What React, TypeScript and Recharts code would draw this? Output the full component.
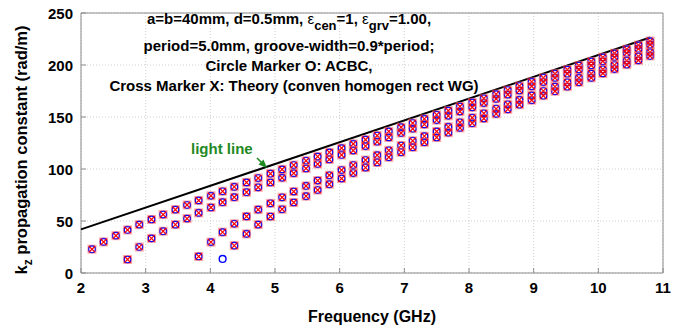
import React from "react";
import { ScatterChart, Scatter, XAxis, YAxis, CartesianGrid, ReferenceLine } from "recharts";

// frequency sweep (GHz), one column of markers per entry
const freqGHz = [
  2.17, 2.35, 2.54, 2.72, 2.9, 3.09, 3.27, 3.46, 3.64, 3.82, 4.01, 4.19,
  4.37, 4.56, 4.74, 4.93, 5.11, 5.29, 5.48, 5.66, 5.84, 6.03, 6.21, 6.4,
  6.58, 6.76, 6.95, 7.13, 7.31, 7.5, 7.68, 7.86, 8.05, 8.23, 8.42, 8.6,
  8.78, 8.97, 9.15, 9.33, 9.52, 9.7, 9.89, 10.07, 10.25, 10.44, 10.62, 10.8,
];

// kz (rad/m) for each guided mode, null below cutoff
const kzMode1 = [
  22.9, 29.9, 35.9, 41.4, 46.5, 51.5, 56.2, 60.9, 65.4, 69.8, 74.2, 78.6,
  82.8, 87.1, 91.3, 95.5, 99.6, 103.8, 107.9, 111.9, 116.0, 120.1, 124.1, 128.2,
  132.2, 136.2, 140.2, 144.2, 148.2, 152.1, 156.1, 160.1, 164.0, 168.0, 172.0, 175.9,
  179.8, 183.8, 187.7, 191.6, 195.6, 199.5, 203.4, 207.4, 211.3, 215.2, 219.1, 223.0,
];
const kzMode2 = [
  null, null, null, 13.0, 25.0, 33.3, 40.2, 46.5, 52.3, 57.8, 63.0, 68.1,
  72.9, 77.7, 82.4, 87.0, 91.5, 96.0, 100.5, 104.8, 109.2, 113.5, 117.7, 122.0,
  126.2, 130.4, 134.6, 138.7, 142.9, 147.0, 151.1, 155.2, 159.3, 163.4, 167.4, 171.5,
  175.5, 179.5, 183.6, 187.6, 191.6, 195.6, 199.6, 203.6, 207.6, 211.6, 215.5, 219.5,
];
const kzMode3 = [
  null, null, null, null, null, null, null, null, null, 15.9, 29.7, 39.3,
  47.3, 54.4, 60.9, 67.0, 72.8, 78.3, 83.7, 88.9, 94.0, 99.0, 103.8, 108.6,
  113.3, 118.0, 122.6, 127.1, 131.6, 136.1, 140.5, 144.9, 149.3, 153.6, 157.9, 162.2,
  166.5, 170.7, 175.0, 179.2, 183.4, 187.6, 191.7, 195.9, 200.0, 204.2, 208.3, 212.4,
];
const kzMode4 = [
  null, null, null, null, null, null, null, null, null, null, null, null,
  26.3, 37.6, 46.5, 54.3, 61.3, 67.8, 73.9, 79.8, 85.4, 90.8, 96.1, 101.3,
  106.3, 111.3, 116.1, 120.9, 125.7, 130.3, 134.9, 139.5, 144.0, 148.5, 153.0, 157.4,
  161.8, 166.2, 170.5, 174.8, 179.1, 183.4, 187.6, 191.9, 196.1, 200.3, 204.5, 208.7,
];

// ACBC point with no theory counterpart (just above mode 4 cutoff)
const acbcExtraFreq = [4.19];
const acbcExtraKz = [13.5];

const lightLineFreq = [2, 10.8];
const lightLineKz = [41.9, 226.4];

const xTicks = [2, 3, 4, 5, 6, 7, 8, 9, 10, 11];
const yTicks = [0, 50, 100, 150, 200, 250];

const FONT = "'Liberation Sans', Arial, sans-serif";
const FRAME = "#8c8c8c";
const GRID = "#cfcfcf";
const GREEN = "#1f8a1f";

type Pt = { f: number; kz: number };

const toPoints = (kz: (number | null)[]): Pt[] =>
  freqGHz
    .map((f, i) => ({ f, kz: kz[i] }))
    .filter((p): p is Pt => p.kz != null);

const theoryPoints = [kzMode1, kzMode2, kzMode3, kzMode4].flatMap(toPoints);
const acbcPoints = [
  ...theoryPoints,
  ...acbcExtraFreq.map((f, i) => ({ f, kz: acbcExtraKz[i] })),
];
const lightLine = lightLineFreq.map((f, i) => ({ f, kz: lightLineKz[i] }));

const CircleMarker = (props: any) => (
  <circle cx={props.cx} cy={props.cy} r={3.4} fill="none" stroke="#0000ff" strokeWidth={1.4} />
);

const CrossMarker = (props: any) => {
  const { cx, cy } = props;
  const s = 3.2;
  return (
    <g>
      <rect x={cx - 4} y={cy - 4} width={8} height={8} fill="none" stroke="#ff6a6a" strokeOpacity={0.6} strokeWidth={1} />
      <path
        d={`M${cx - s},${cy - s}L${cx + s},${cy + s}M${cx - s},${cy + s}L${cx + s},${cy - s}`}
        stroke="#ff0000"
        strokeWidth={1.2}
      />
    </g>
  );
};

const NoMarker = () => <g />;

const XTick = ({ x, y, payload }: any) => (
  <g>
    <line x1={x} x2={x} y1={y} y2={y - 5} stroke={FRAME} />
    <text x={x} y={y + 20} textAnchor="middle" fontFamily={FONT} fontWeight="bold" fontSize={15} fill="#000">
      {payload.value}
    </text>
  </g>
);

const YTick = ({ x, y, payload }: any) => (
  <g>
    <line x1={x} x2={x + 5} y1={y} y2={y} stroke={FRAME} />
    <text x={x - 8} y={y + 6} textAnchor="end" fontFamily={FONT} fontWeight="bold" fontSize={15} fill="#000">
      {payload.value}
    </text>
  </g>
);

function Annotations() {
  const txt = { fontFamily: FONT, fontWeight: "bold" as const, fontSize: 15, fill: "#000" };
  return (
    <svg width={689} height={329} style={{ position: "absolute", left: 0, top: 0, pointerEvents: "none" }}>
      <text x={289} y={24} textAnchor="middle" {...txt}>
        a=b=40mm, d=0.5mm, <tspan fontWeight="normal">ε</tspan>
        <tspan fontSize={13} dy={6}>cen</tspan>
        <tspan dy={-6}>=1, </tspan>
        <tspan fontWeight="normal">ε</tspan>
        <tspan fontSize={13} dy={6}>grv</tspan>
        <tspan dy={-6}>=1.00,</tspan>
      </text>
      <text x={289} y={51} textAnchor="middle" {...txt}>
        period=5.0mm, groove-width=0.9*period;
      </text>
      <text x={289} y={71} textAnchor="middle" {...txt}>
        Circle Marker O: ACBC,
      </text>
      <text x={294} y={91} textAnchor="middle" {...txt}>
        Cross Marker X: Theory (conven homogen rect WG)
      </text>

      <text x={191} y={154} {...txt} fill={GREEN}>
        light line
      </text>
      <line x1={257} y1={158} x2={263} y2={164} stroke={GREEN} strokeWidth={1.6} />
      <polygon points="267,168 258.5,164.5 263.5,159.5" fill={GREEN} />

      <text
        transform="translate(27,150) rotate(-90)"
        textAnchor="middle"
        fontFamily={FONT}
        fontWeight="bold"
        fontSize={16.5}
        fill="#000"
      >
        k<tspan fontSize={12} dy={5}>z</tspan>
        <tspan dy={-5}> propagation constant (rad/m)</tspan>
      </text>
      <text x={372} y={322} textAnchor="middle" {...txt} fontSize={16}>
        Frequency (GHz)
      </text>
    </svg>
  );
}

export default function App() {
  return (
    <div style={{ position: "absolute", left: 0, top: 0, width: 689, height: 329, background: "#fff" }}>
      <ScatterChart width={689} height={329} margin={{ top: 13, right: 26, bottom: 26, left: 41 }}>
        <CartesianGrid stroke={GRID} strokeDasharray="1 2" />
        <XAxis
          dataKey="f"
          type="number"
          domain={[2, 11]}
          ticks={xTicks}
          height={30}
          tickSize={0}
          tickMargin={0}
          tick={<XTick />}
          axisLine={{ stroke: FRAME }}
          tickLine={false}
        />
        <YAxis
          dataKey="kz"
          type="number"
          domain={[0, 250]}
          ticks={yTicks}
          width={40}
          tickSize={0}
          tickMargin={0}
          tick={<YTick />}
          axisLine={{ stroke: FRAME }}
          tickLine={false}
        />
        <ReferenceLine y={250} stroke={FRAME} />
        <ReferenceLine x={11} stroke={FRAME} />
        <Scatter
          data={lightLine}
          line={{ stroke: "#000", strokeWidth: 2 }}
          shape={NoMarker}
          isAnimationActive={false}
        />
        <Scatter data={acbcPoints} shape={CircleMarker} isAnimationActive={false} />
        <Scatter data={theoryPoints} shape={CrossMarker} isAnimationActive={false} />
      </ScatterChart>
      <Annotations />
    </div>
  );
}
